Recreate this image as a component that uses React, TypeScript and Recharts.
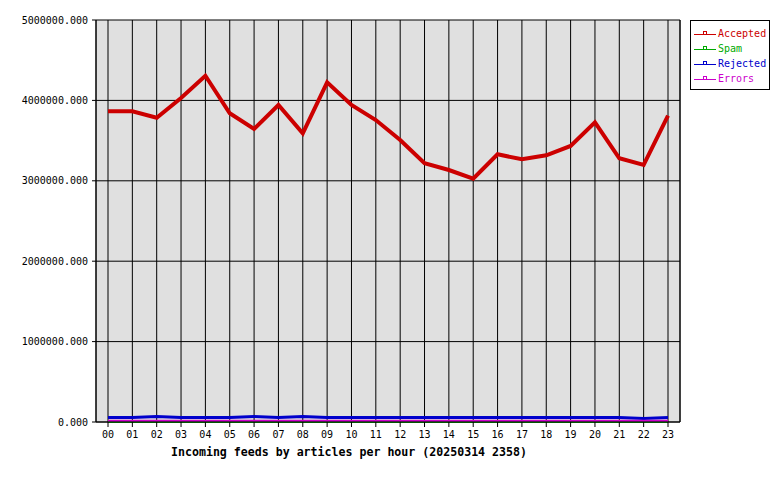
import React from 'react';
import { LineChart, Line, XAxis, YAxis, CartesianGrid } from 'recharts';

const hours = ['00','01','02','03','04','05','06','07','08','09','10','11','12','13','14','15','16','17','18','19','20','21','22','23'];
const accepted = [3864000, 3864000, 3785000, 4030000, 4307000, 3840000, 3644000, 3943000, 3590000, 4225000, 3943000, 3756000, 3507000, 3218000, 3134000, 3026000, 3330000, 3267000, 3317000, 3433000, 3728000, 3280000, 3197000, 3810000];
const spam = [0,0,0,0,0,0,0,0,0,0,0,0,0,0,0,0,0,0,0,0,0,0,0,0];
const rejected = [56000, 56000, 68000, 56000, 56000, 56000, 68000, 56000, 68000, 56000, 56000, 56000, 56000, 56000, 56000, 56000, 56000, 56000, 56000, 56000, 56000, 56000, 44000, 56000];
const errors = [15000,15000,15000,15000,15000,15000,15000,15000,15000,15000,15000,15000,15000,15000,15000,15000,15000,15000,15000,15000,15000,15000,15000,15000];
const yTicks = [0, 1000000, 2000000, 3000000, 4000000, 5000000];
const title = 'Incoming feeds by articles per hour (20250314 2358)';

const series = [
  { key: 'Accepted', color: '#cc0000', width: 4 },
  { key: 'Spam', color: '#00aa00', width: 2 },
  { key: 'Rejected', color: '#0000cc', width: 3 },
  { key: 'Errors', color: '#cc00cc', width: 2 },
];

const data = hours.map((h, i) => ({
  hour: h,
  Accepted: accepted[i],
  Spam: spam[i],
  Rejected: rejected[i],
  Errors: errors[i],
}));

const font = '"DejaVu Sans Mono", monospace';

export default function App() {
  return (
    <div style={{ position: 'absolute', left: 0, top: 0, width: 780, height: 480, background: '#fff', fontFamily: font }}>
      <LineChart width={780} height={480} data={data} margin={{ top: 20, right: 99, bottom: 28, left: 0 }}>
        <CartesianGrid fill="#e0e0e0" stroke="#000" strokeOpacity={1} />
        <XAxis
          dataKey="hour"
          padding={{ left: 12, right: 12 }}
          height={30}
          tickSize={5}
          tickMargin={4}
          axisLine={{ stroke: '#000' }}
          tickLine={{ stroke: '#000' }}
          tick={{ fill: '#000', fontSize: 10, fontFamily: font }}
          interval={0}
        />
        <YAxis
          domain={[0, 5000000]}
          ticks={yTicks}
          width={96}
          tickSize={4}
          tickMargin={4}
          axisLine={{ stroke: '#000' }}
          tickLine={{ stroke: '#000' }}
          tick={{ fill: '#000', fontSize: 10, fontFamily: font }}
          tickFormatter={(v: number) => v.toFixed(3)}
        />
        <YAxis
          yAxisId="r"
          orientation="right"
          width={1}
          tick={false}
          tickLine={false}
          axisLine={{ stroke: '#000' }}
          domain={[0, 5000000]}
        />
        {series.map((s) => (
          <Line
            key={s.key}
            type="linear"
            dataKey={s.key}
            stroke={s.color}
            strokeWidth={s.width}
            dot={false}
            activeDot={false}
            isAnimationActive={false}
          />
        ))}
      </LineChart>
      <div style={{ position: 'absolute', left: 171, top: 445, fontSize: 11.6, fontWeight: 'bold', whiteSpace: 'pre', color: '#000' }}>
        {title}
      </div>
      <div style={{ position: 'absolute', left: 690, top: 20, width: 78, height: 68, border: '1px solid #000', background: '#fff' }}>
        {series.map((s, i) => (
          <div key={s.key} style={{ position: 'absolute', left: 3, top: 6 + i * 15, height: 14, display: 'flex', alignItems: 'center' }}>
            <svg width={23} height={14} style={{ display: 'block' }}>
              <line x1={0} y1={7.5} x2={22} y2={7.5} stroke={s.color} strokeWidth={1} />
              <rect x={9.5} y={4.5} width={3} height={3} fill="none" stroke={s.color} strokeWidth={1} />
            </svg>
            <span style={{ color: s.color, fontSize: 10, marginLeft: 1, lineHeight: '14px' }}>{s.key}</span>
          </div>
        ))}
      </div>
    </div>
  );
}
